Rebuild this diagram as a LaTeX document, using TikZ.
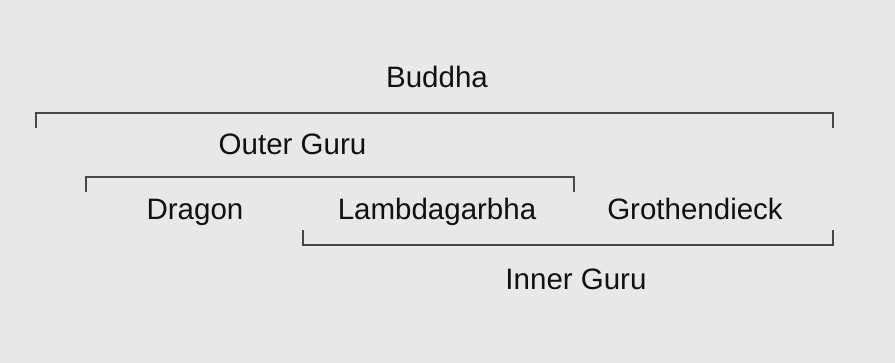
\documentclass[tikz,border=0pt]{standalone}
\usepackage{fontspec}
\setmainfont{Liberation Sans}
\definecolor{bg}{HTML}{E8E8E8}
\definecolor{ln}{HTML}{484848}
\definecolor{tx}{HTML}{111111}
\begin{document}
\begin{tikzpicture}[x=1pt,y=-1pt,
  lbl/.style={anchor=base,inner sep=0pt,text=tx,font=\fontsize{29.5}{32}\selectfont},
  brk/.style={draw=ln,line width=1.6pt,line cap=butt,line join=miter}]
\fill[bg] (0,0) rectangle (895,363);
\useasboundingbox (0,0) rectangle (895,363);
\node[lbl] (buddha) at (437,88) {Buddha};
\node[lbl] (outer) at (292.5,155) {Outer Guru};
\node[lbl] (dragon) at (195,220) {Dragon};
\node[lbl] (lambda) at (437,220) {Lambdagarbha};
\node[lbl] (groth) at (695,220) {Grothendieck};
\node[lbl] (inner) at (576,290) {Inner Guru};
\coordinate (b1) at (36,128); \coordinate (b2) at (36,113);
\coordinate (b3) at (833,113); \coordinate (b4) at (833,128);
\coordinate (o1) at (86,192); \coordinate (o2) at (86,177);
\coordinate (o3) at (574,177); \coordinate (o4) at (574,192);
\coordinate (i1) at (303,230); \coordinate (i2) at (303,245);
\coordinate (i3) at (833,245); \coordinate (i4) at (833,230);
\draw[brk] (b1) -- (b2) -- (b3) -- (b4);
\draw[brk] (o1) -- (o2) -- (o3) -- (o4);
\draw[brk] (i1) -- (i2) -- (i3) -- (i4);
\end{tikzpicture}
\end{document}
